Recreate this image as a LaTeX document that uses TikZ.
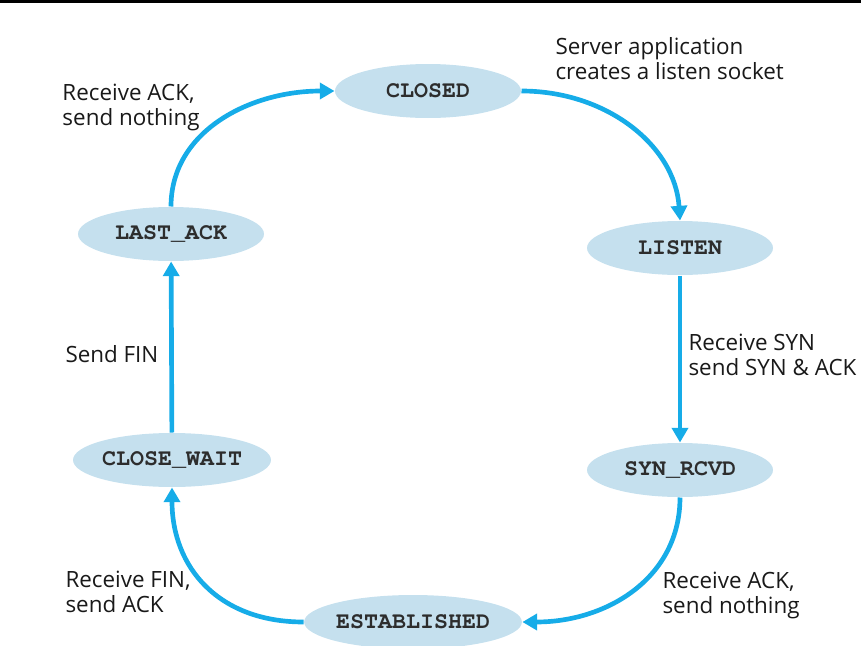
\documentclass[tikz,border=0pt]{standalone}
\usepackage{fontspec}
\setsansfont{Open Sans}
\setmonofont{TeX Gyre Cursor}
\usetikzlibrary{arrows.meta,shapes.geometric}
\definecolor{flowblue}{RGB}{22,172,232}
\definecolor{statefill}{RGB}{197,224,238}
\definecolor{statetext}{RGB}{45,45,45}
\tikzset{every picture/.style={line width=0.75pt}}
\tikzset{
  state/.style={ellipse, fill=statefill, text=statetext, minimum width=139.5pt, minimum height=40.5pt, inner sep=0pt, font=\ttfamily\bfseries\fontsize{17.5}{20}\selectfont},
  note/.style={anchor=west, align=left, inner sep=0pt, text=black!90, font=\sffamily\fontsize{16.8}{18.75}\selectfont},
  flow/.style={draw=flowblue, line width=3.5pt, -{Triangle[length=11pt,width=12pt]}}
}
\begin{document}
\begin{tikzpicture}[x=0.75pt,y=0.75pt,yscale=-1,xscale=1]
\useasboundingbox (0,0) rectangle (861,646);

%Top rule
\draw[line width=1.5pt] (0,1.5) -- (861,1.5);

%States
\node[state] (closed) at (428,91) {CLOSED};
\node[state] (listen) at (680,248) {LISTEN};
\node[state] (synrcvd) at (680,470) {SYN\_RCVD};
\node[state] (established) at (413,622) {ESTABLISHED};
\node[state] (closewait) at (172,460) {CLOSE\_WAIT};
\node[state] (lastack) at (171,234) {LAST\_ACK};

% Text Node
\node[note] (lastacknote) at (62,107) {Receive ACK,\\send nothing};
% Text Node
\node[note] (closednote) at (555,59) {Server application\\creates a listen socket};
% Text Node
\node[note] (listennote) at (688,355) {Receive SYN\\send SYN \& ACK};
% Text Node
\node[note, anchor=base west] (closewaitnote) at (65,362) {Send FIN};
% Text Node
\node[note] (establishednote) at (65,592) {Receive FIN,\\send ACK};
% Text Node
\node[note] (synrcvdnote) at (662,595) {Receive ACK,\\send nothing};

%Transitions
\draw[flow] (lastack.north) .. controls +(0,-75) and +(-85,0) .. (closed.west);
\draw[flow] (closed.east) .. controls +(85,0) and +(-5,-75) .. (listen.north);
\draw[flow] (listen) -- (synrcvd);
\draw[flow] (synrcvd.south) .. controls +(0,80) and +(85,0) .. (established.east);
\draw[flow] (established.west) .. controls +(-85,0) and +(0,80) .. (closewait.south);
\draw[flow] (closewait) -- (lastack);

\end{tikzpicture}
\end{document}
